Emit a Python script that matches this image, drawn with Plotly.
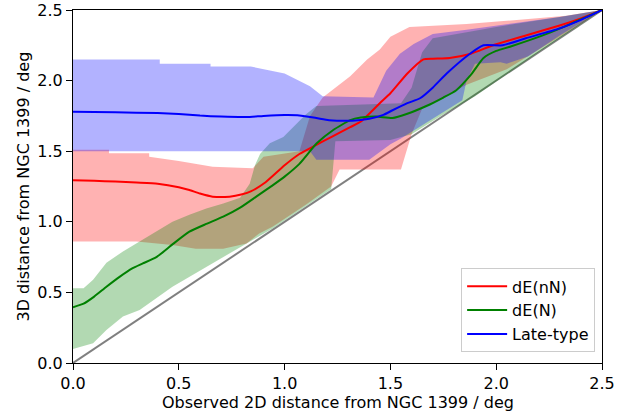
import plotly.graph_objects as go

# ---- central lines ----
red_x = [0, 0.1, 0.2, 0.3, 0.4, 0.5, 0.55, 0.6, 0.66, 0.74, 0.8, 0.84, 0.91, 1.0, 1.07, 1.15, 1.22, 1.31, 1.36, 1.45, 1.5, 1.58, 1.656, 1.7, 1.78, 1.88, 1.985, 2.14, 2.3, 2.4, 2.5]
red_y = [1.295, 1.29, 1.285, 1.278, 1.27, 1.245, 1.225, 1.2, 1.178, 1.178, 1.195, 1.215, 1.28, 1.4, 1.48, 1.545, 1.6, 1.67, 1.71, 1.84, 1.91, 2.05, 2.15, 2.155, 2.16, 2.19, 2.25, 2.32, 2.39, 2.44, 2.5]

green_x = [0, 0.05, 0.1, 0.158, 0.22, 0.28, 0.33, 0.394, 0.47, 0.55, 0.63, 0.71, 0.79, 0.866, 0.945, 1.0, 1.07, 1.152, 1.23, 1.31, 1.36, 1.435, 1.51, 1.58, 1.67, 1.75, 1.81, 1.88, 1.94, 2.0, 2.065, 2.22, 2.35, 2.5]
green_y = [0.395, 0.42, 0.47, 0.54, 0.61, 0.67, 0.705, 0.75, 0.84, 0.93, 0.985, 1.036, 1.1, 1.178, 1.26, 1.32, 1.41, 1.556, 1.65, 1.72, 1.738, 1.745, 1.735, 1.765, 1.82, 1.88, 1.93, 2.04, 2.16, 2.21, 2.24, 2.32, 2.4, 2.5]

blue_x = [0, 0.2, 0.4, 0.5, 0.6, 0.7, 0.82, 0.9, 1.0, 1.06, 1.15, 1.21, 1.32, 1.4, 1.467, 1.51, 1.58, 1.64, 1.7, 1.766, 1.876, 1.94, 2.03, 2.14, 2.3, 2.4, 2.5]
blue_y = [1.78, 1.775, 1.77, 1.763, 1.752, 1.745, 1.742, 1.75, 1.757, 1.755, 1.735, 1.72, 1.716, 1.73, 1.757, 1.79, 1.84, 1.875, 1.95, 2.05, 2.19, 2.25, 2.25, 2.3, 2.37, 2.43, 2.5]

# ---- bands (upper / lower envelopes) ----
red_hi_x = [0, 0.17, 0.17, 0.36, 0.36, 0.5, 0.66, 0.85, 0.9, 1.07, 1.12, 1.18, 1.31, 1.39, 1.45, 1.5, 1.59, 1.86, 2.02, 2.33, 2.5]
red_hi_y = [1.51, 1.51, 1.485, 1.485, 1.46, 1.43, 1.39, 1.38, 1.46, 1.5, 1.75, 1.88, 2.03, 2.15, 2.22, 2.31, 2.38, 2.40, 2.42, 2.46, 2.5]
red_lo_x = [0, 0.30, 0.47, 0.58, 0.71, 0.82, 0.88, 0.945, 1.1, 1.22, 1.26, 1.55, 1.6, 1.65, 1.86, 2.05, 2.3, 2.5]
red_lo_y = [0.86, 0.86, 0.836, 0.81, 0.81, 0.847, 0.918, 0.966, 1.12, 1.25, 1.37, 1.37, 1.62, 1.8, 1.97, 2.08, 2.31, 2.5]

green_hi_x = [0, 0.05, 0.095, 0.158, 0.236, 0.315, 0.394, 0.47, 0.55, 0.63, 0.71, 0.79, 0.835, 0.86, 0.884, 0.93, 0.994, 1.04, 1.1, 1.15, 1.55, 1.6, 1.65, 1.7, 2.0, 2.3, 2.5]
green_hi_y = [0.53, 0.53, 0.59, 0.71, 0.79, 0.86, 0.93, 1.0, 1.05, 1.095, 1.13, 1.17, 1.27, 1.4, 1.48, 1.556, 1.6, 1.67, 1.76, 1.82, 1.84, 1.95, 2.2, 2.3, 2.38, 2.45, 2.5]
green_lo_x = [0, 0.095, 0.158, 0.236, 0.315, 0.47, 0.63, 0.79, 0.945, 1.1, 1.22, 1.24, 1.5, 1.6, 1.75, 1.9, 2.2, 2.5]
green_lo_y = [0.10, 0.14, 0.234, 0.33, 0.375, 0.54, 0.68, 0.82, 0.955, 1.11, 1.23, 1.57, 1.58, 1.62, 1.76, 1.89, 2.2, 2.5]

blue_hi_x = [0, 0.41, 0.41, 0.65, 0.65, 0.84, 1.0, 1.12, 1.18, 1.42, 1.48, 1.545, 1.61, 1.70, 1.86, 2.1, 2.3, 2.5]
blue_hi_y = [2.15, 2.15, 2.12, 2.12, 2.10, 2.10, 2.05, 1.96, 1.89, 1.88, 2.07, 2.19, 2.26, 2.33, 2.36, 2.41, 2.45, 2.5]
blue_lo_x = [0, 1.12, 1.15, 1.40, 1.5, 1.55, 1.84, 1.86, 1.9, 2.02, 2.05, 2.15, 2.3, 2.5]
blue_lo_y = [1.50, 1.50, 1.44, 1.44, 1.55, 1.59, 1.86, 2.0, 2.12, 2.13, 2.12, 2.17, 2.32, 2.5]

diag_x = [0, 2.5]
diag_y = [0, 2.5]

FONT = "DejaVu Sans"

fig = go.Figure()

def band(xh, yh, xl, yl, color):
    fig.add_trace(go.Scatter(
        x=list(xh) + list(xl)[::-1], y=list(yh) + list(yl)[::-1],
        mode="lines", fill="toself", fillcolor=color, line=dict(width=0),
        showlegend=False, hoverinfo="skip"))

fig.add_trace(go.Scatter(x=diag_x, y=diag_y, mode="lines",
                         line=dict(color="#808080", width=2), showlegend=False))
band(red_hi_x, red_hi_y, red_lo_x, red_lo_y, "rgba(255,0,0,0.3)")
band(green_hi_x, green_hi_y, green_lo_x, green_lo_y, "rgba(0,128,0,0.3)")
band(blue_hi_x, blue_hi_y, blue_lo_x, blue_lo_y, "rgba(0,0,255,0.3)")

fig.add_trace(go.Scatter(x=red_x, y=red_y, mode="lines", name="dE(nN)",
                         line=dict(color="#ff0000", width=2, shape="spline", smoothing=0.5)))
fig.add_trace(go.Scatter(x=green_x, y=green_y, mode="lines", name="dE(N)",
                         line=dict(color="#008000", width=2, shape="spline", smoothing=0.5)))
fig.add_trace(go.Scatter(x=blue_x, y=blue_y, mode="lines", name="Late-type",
                         line=dict(color="#0000ff", width=2, shape="spline", smoothing=0.5)))

axis_common = dict(
    showgrid=False, zeroline=False, showline=True, linecolor="black", linewidth=1.2,
    mirror=True, ticks="outside", ticklen=6, tickwidth=1.2, tickcolor="black",
    tickfont=dict(family=FONT, size=16, color="black"),
    range=[0, 2.5], tickvals=[0, 0.5, 1.0, 1.5, 2.0, 2.5],
    ticktext=["0.0", "0.5", "1.0", "1.5", "2.0", "2.5"],
    automargin=False, ticklabeloverflow="allow",
)

fig.update_layout(
    width=636, height=419,
    margin=dict(l=73, r=34, t=10, b=56, autoexpand=False),
    paper_bgcolor="white", plot_bgcolor="white",
    font=dict(family=FONT, size=16, color="black"),
    xaxis=dict(axis_common),
    yaxis=dict(axis_common),
    legend=dict(x=0.987, y=0.03, xanchor="right", yanchor="bottom",
                bgcolor="rgba(255,255,255,0.8)", bordercolor="#cccccc", borderwidth=1,
                font=dict(family=FONT, size=16), itemwidth=40, tracegroupgap=0),
    showlegend=True,
    annotations=[
        dict(text="Observed 2D distance from NGC 1399 / deg", xref="paper", yref="paper",
             x=0.5, y=-0.113, xanchor="center", yanchor="middle", showarrow=False,
             font=dict(family=FONT, size=16, color="black")),
        dict(text="3D distance from NGC 1399 / deg", xref="paper", yref="paper",
             x=-0.0945, y=0.5, xanchor="center", yanchor="middle", showarrow=False,
             textangle=-90, font=dict(family=FONT, size=16, color="black")),
    ],
)

# remove the default 8 px page margin so the figure sits at the window's corner
fig.write_html("out.html", config={"displayModeBar": False},
               post_script="document.body.style.margin='0';")
